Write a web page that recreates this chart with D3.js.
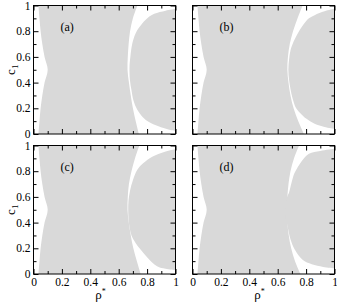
<!DOCTYPE html>
<html>
<head>
<meta charset="utf-8">
<script src="https://cdn.jsdelivr.net/npm/d3@7"></script>
<style>
body { margin: 0; background: #fff; }
text { font-family: "Liberation Serif", "Times New Roman", serif; fill: #000; }
</style>
</head>
<body>
<svg width="337" height="305"></svg>
<script>
// c1 levels at which the boundaries of the main region are read
var cLevels = [0, 0.1, 0.2, 0.3, 0.4, 0.5, 0.6, 0.7, 0.8, 0.9, 1];

// left boundary (same in all four panels)
var leftEdge = [0.035, 0.042, 0.05, 0.062, 0.078, 0.1, 0.078, 0.062, 0.05, 0.042, 0.035];

// right boundary of the main region, one per panel
var mainEdgeA = [0.742, 0.72, 0.7, 0.685, 0.672, 0.662, 0.664, 0.67, 0.68, 0.7, 0.732];
var mainEdgeB = [0.785, 0.745, 0.712, 0.69, 0.676, 0.668, 0.672, 0.685, 0.708, 0.74, 0.775];
var mainEdgeC = [0.755, 0.728, 0.703, 0.685, 0.671, 0.662, 0.664, 0.672, 0.69, 0.715, 0.745];
var mainEdgeD = [0.76, 0.722, 0.695, 0.678, 0.668, 0.664, 0.668, 0.676, 0.69, 0.715, 0.75];

// outline of the right-hand dome, [rho*, c1]
var domeA = [[1, 0.975], [0.93, 0.96], [0.85, 0.935], [0.79, 0.89], [0.745, 0.83], [0.718, 0.78],
  [0.695, 0.7], [0.682, 0.6], [0.676, 0.52], [0.679, 0.42], [0.69, 0.34], [0.704, 0.26],
  [0.73, 0.19], [0.77, 0.13], [0.81, 0.095], [0.88, 0.06], [0.95, 0.035], [1, 0.025]];
var domeB = [[1, 0.974], [0.93, 0.955], [0.86, 0.925], [0.82, 0.9], [0.78, 0.85], [0.74, 0.78],
  [0.705, 0.7], [0.69, 0.65], [0.68, 0.58], [0.675, 0.5], [0.68, 0.42], [0.69, 0.35],
  [0.704, 0.28], [0.73, 0.2], [0.77, 0.15], [0.8, 0.12], [0.86, 0.08], [0.93, 0.055], [1, 0.04]];
var domeC = [[1, 0.97], [0.92, 0.95], [0.84, 0.915], [0.77, 0.86], [0.73, 0.81], [0.7, 0.73],
  [0.68, 0.65], [0.669, 0.57], [0.667, 0.5], [0.67, 0.42], [0.677, 0.36], [0.69, 0.3],
  [0.72, 0.24], [0.754, 0.19], [0.8, 0.13], [0.87, 0.06], [0.93, 0.04], [1, 0.03]];
var domeD = [[1, 0.975], [0.9, 0.958], [0.82, 0.935], [0.77, 0.88], [0.735, 0.82], [0.716, 0.78],
  [0.695, 0.7], [0.68, 0.635], [0.666, 0.6], [0.66, 0.56], [0.655, 0.5], [0.658, 0.42],
  [0.668, 0.38], [0.675, 0.34], [0.69, 0.27], [0.72, 0.19], [0.775, 0.11], [0.84, 0.075],
  [0.92, 0.055], [1, 0.045]];

var majorTicks = [0, 0.2, 0.4, 0.6, 0.8, 1];
var minorTicks = [0.1, 0.3, 0.5, 0.7, 0.9];
var tickLabels = ["0", "0.2", "0.4", "0.6", "0.8", "1"];
var panelNames = ["(a)", "(b)", "(c)", "(d)"];

var svg = d3.select('svg');
var colX = [33, 192], panelW = 142;
var rowY = [5, 145], panelH = 128.5;
var fillGray = '#d9d9d9';

var panels = [
  {name: panelNames[0], main: mainEdgeA, dome: domeA, col: 0, row: 0},
  {name: panelNames[1], main: mainEdgeB, dome: domeB, col: 1, row: 0},
  {name: panelNames[2], main: mainEdgeC, dome: domeC, col: 0, row: 1},
  {name: panelNames[3], main: mainEdgeD, dome: domeD, col: 1, row: 1}
];

panels.forEach(function(p, k) {
  var x = d3.scaleLinear().domain([0, 1]).range([0, panelW]);
  var y = d3.scaleLinear().domain([0, 1]).range([panelH, 0]);
  var g = svg.append('g')
    .attr('transform', 'translate(' + [colX[p.col] + 0.5, rowY[p.row] + 0.5] + ')');

  g.append('clipPath').attr('id', 'clip' + k)
    .append('rect').attr('width', panelW).attr('height', panelH);
  var plot = g.append('g').attr('clip-path', 'url(#clip' + k + ')');

  // main gray region between left edge and right edge
  var rows = cLevels.map(function(c, i) { return {c: c, l: leftEdge[i], r: p.main[i]}; });
  var area = d3.area()
    .y(function(d) { return y(d.c); })
    .x0(function(d) { return x(d.l); })
    .x1(function(d) { return x(d.r); })
    .curve(d3.curveCatmullRom);
  plot.append('path').attr('d', area(rows)).attr('fill', fillGray);

  // dome on the right
  var line = d3.line()
    .x(function(d) { return x(d[0]); })
    .y(function(d) { return y(d[1]); })
    .curve(d3.curveCatmullRom);
  plot.append('path').attr('d', line(p.dome) + 'Z').attr('fill', fillGray);

  // ticks pointing inwards on all four sides
  function ticks(axisFn, transform, vals, size) {
    g.append('g').attr('transform', transform)
      .call(axisFn.tickValues(vals).tickSize(size).tickSizeOuter(0).tickFormat(''))
      .call(function(s) { s.select('.domain').remove(); s.selectAll('line').attr('stroke', '#000'); });
  }
  ticks(d3.axisTop(x), 'translate(0,' + panelH + ')', majorTicks, 5);
  ticks(d3.axisTop(x), 'translate(0,' + panelH + ')', minorTicks, 3);
  ticks(d3.axisBottom(x), 'translate(0,0)', majorTicks, 5);
  ticks(d3.axisBottom(x), 'translate(0,0)', minorTicks, 3);
  ticks(d3.axisRight(y), 'translate(0,0)', majorTicks, 5);
  ticks(d3.axisRight(y), 'translate(0,0)', minorTicks, 3);
  ticks(d3.axisLeft(y), 'translate(' + panelW + ',0)', majorTicks, 5);
  ticks(d3.axisLeft(y), 'translate(' + panelW + ',0)', minorTicks, 3);

  g.append('rect').attr('width', panelW).attr('height', panelH)
    .attr('fill', 'none').attr('stroke', '#000').attr('stroke-width', 1);

  // panel tag
  g.append('text').attr('x', x(0.19)).attr('y', y(0.8))
    .style('font-size', '12px').text(p.name);

  if (p.col === 0) {
    var ya = g.append('g')
      .call(d3.axisLeft(y).tickValues(majorTicks).tickSize(0).tickPadding(3)
        .tickFormat(function(d, i) { return tickLabels[i]; }));
    ya.select('.domain').remove();
    ya.selectAll('text').style('font-family', '"Liberation Serif", serif').style('font-size', '11.5px');

    var ylab = g.append('text')
      .attr('transform', 'translate(-19,' + (panelH / 2) + ') rotate(-90)')
      .attr('text-anchor', 'middle').style('font-size', '13px');
    ylab.append('tspan').text('c');
    ylab.append('tspan').attr('dy', 3).style('font-size', '9px').text('1');
  }
  if (p.row === 1) {
    var xa = g.append('g').attr('transform', 'translate(0,' + panelH + ')')
      .call(d3.axisBottom(x).tickValues(majorTicks).tickSize(0).tickPadding(4)
        .tickFormat(function(d, i) { return tickLabels[i]; }));
    xa.select('.domain').remove();
    xa.selectAll('text').style('font-family', '"Liberation Serif", serif').style('font-size', '11.5px');

    var xlab = g.append('text')
      .attr('x', panelW / 2 - 4).attr('y', panelH + 25)
      .attr('text-anchor', 'middle').style('font-size', '13px');
    xlab.append('tspan').text('\u03c1');
    xlab.append('tspan').attr('dy', -5).style('font-size', '8px').text('*');
  }
});
</script>
</body>
</html>
